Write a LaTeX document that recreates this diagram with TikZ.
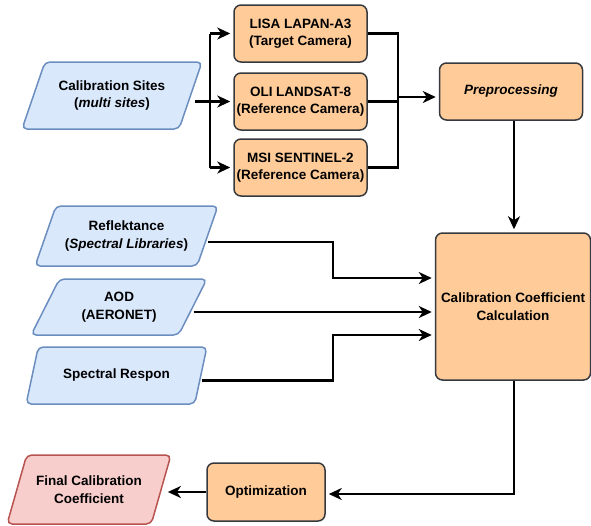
\documentclass[tikz,border=0pt]{standalone}
\usepackage{fontspec}
\setmainfont{Liberation Sans}
\usetikzlibrary{shapes.geometric,arrows.meta,calc}
\definecolor{ProcFill}{RGB}{255,204,153}
\definecolor{ProcLine}{RGB}{54,57,61}
\definecolor{InFill}  {RGB}{218,232,252}
\definecolor{InLine}  {RGB}{108,142,191}
\definecolor{OutFill} {RGB}{248,206,204}
\definecolor{OutLine} {RGB}{184,84,80}
\newcommand{\ftxt}{\fontsize{13.5}{17.5}\selectfont}
\tikzset{
  nd_proc/.style={rectangle,rounded corners=7pt,draw=ProcLine,fill=ProcFill,line width=1.5pt,align=center,font=\ftxt\bfseries,inner sep=2pt},
  nd_in/.style={trapezium,trapezium left angle=60,trapezium right angle=120,trapezium stretches=true,rounded corners=5pt,draw=InLine,fill=InFill,line width=1.5pt,align=center,font=\ftxt\bfseries,inner sep=1pt},
  nd_out/.style={nd_in,draw=OutLine,fill=OutFill},
  arr/.style={-{Stealth[length=13pt,width=12pt,inset=4pt]},line width=2.2pt,shorten >=3pt},
  ln/.style={line width=2.2pt},
}

\begin{document}
\begin{tikzpicture}[x=1pt,y=-1pt]
\useasboundingbox (0,0) rectangle (591,525);
% inputs
\node[nd_in,minimum width=180,minimum height=67] at (112,95.5)(CS){Calibration Sites\\(\textit{multi sites})};
\node[nd_in,minimum width=183,minimum height=60] at (126.5,236)(REF){Reflektance\\(\textit{Spectral Libraries})};
\node[nd_in,minimum width=176,minimum height=56] at (119,307)(AOD){AOD\\(AERONET)};
\node[nd_in,minimum width=181,minimum height=57] at (116.5,375.5)(SR){Spectral Respon};
% cameras
\node[nd_proc,minimum width=133,minimum height=57] at (300.5,33.5)(LISA){LISA LAPAN-A3\\(Target Camera)};
\node[nd_proc,minimum width=133,minimum height=57] at (300.5,101.5)(OLI){OLI LANDSAT-8\\(Reference Camera)};
\node[nd_proc,minimum width=133,minimum height=57] at (300.5,167.5)(MSI){MSI SENTINEL-2\\(Reference Camera)};
% processing
\node[nd_proc,minimum width=143,minimum height=57] at (511,91.5)(PRE){\textit{Preprocessing}};
\node[nd_proc,minimum width=155,minimum height=147] at (513,306.5)(CALC){Calibration Coefficient\\Calculation};
\node[nd_proc,minimum width=118,minimum height=58] at (266,492)(OPT){Optimization};
\node[nd_out,minimum width=164,minimum height=69] at (89,489.5)(FIN){Final Calibration\\Coefficient};
% junctions
\coordinate (J1) at (210,101.5);
\coordinate (J2) at (398,97);
\coordinate (J3) at (333,278);
\coordinate (J4) at (333,335);
\coordinate (J5) at (514,494);
\coordinate (R0) at ($(REF.east)+(0,6)$);
\coordinate (A0) at ($(AOD.east)+(0,5)$);
\coordinate (S0) at ($(SR.east)+(0,5)$);
\coordinate (C0) at ($(CS.east |- OLI.west)+(4,0)$);
% arrows
\draw[arr](C0)--(OLI.west);
\draw[ln](J1 |- LISA)--(J1 |- MSI);
\draw[arr](J1 |- LISA)--(LISA.west);
\draw[arr](J1 |- MSI)--(MSI.west);
\draw[ln](LISA.east)--(J2 |- LISA)--(J2 |- MSI)--(MSI.east);
\draw[ln](OLI.east)--(J2 |- OLI);
\draw[arr](J2)--(J2 -| PRE.west);
\draw[arr](PRE.south -| J5)--(J5 |- CALC.north);
\draw[arr](R0)--(R0 -| J3)--(J3)--(J3 -| CALC.west);
\draw[arr](A0)--(A0 -| CALC.west);
\draw[arr](S0)--(S0 -| J4)--(J4)--(J4 -| CALC.west);
\draw[arr](CALC.south -| J5)--(J5)--(J5 -| OPT.east);
\draw[arr,shorten >=6pt](OPT.west)--(OPT.west -| FIN.east);
\end{tikzpicture}
\end{document}
